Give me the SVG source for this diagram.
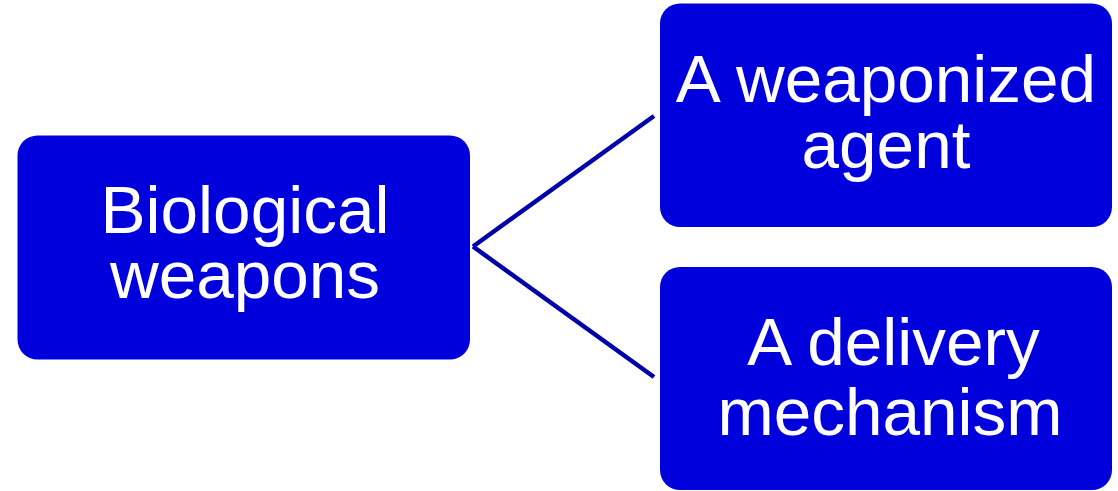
<svg xmlns="http://www.w3.org/2000/svg" width="1118" height="491" viewBox="0 0 1118 491">
  <style>
    .box { fill: #0000DC; }
    .lbl { fill: #FFFFFF; font-family: "Liberation Sans", Arial, sans-serif; font-size: 67.5px; text-anchor: middle; }
    .conn { stroke: #0000A8; stroke-width: 4.5; fill: none; stroke-linecap: butt; }
  </style>
  <rect width="1118" height="491" fill="#FFFFFF"/>
  <g id="connectors">
    <line class="conn" x1="473" y1="246.5" x2="654" y2="116"/>
    <line class="conn" x1="473" y1="246.5" x2="654" y2="377"/>
  </g>
  <g id="node-bio">
    <rect class="box" x="17.5" y="135.5" width="452.5" height="224" rx="20" ry="20"/>
    <text class="lbl" x="245" y="233.3">Biological</text>
    <text class="lbl" x="245" y="298.3">weapons</text>
  </g>
  <g id="node-agent">
    <rect class="box" x="660" y="3.5" width="452" height="223.5" rx="20" ry="20"/>
    <text class="lbl" x="886" y="102.3">A weaponized</text>
    <text class="lbl" x="886" y="168.3">agent</text>
  </g>
  <g id="node-delivery">
    <rect class="box" x="660" y="267" width="452" height="223" rx="20" ry="20"/>
    <text class="lbl" x="893.5" y="365">A delivery</text>
    <text class="lbl" x="890" y="435">mechanism</text>
  </g>
</svg>
